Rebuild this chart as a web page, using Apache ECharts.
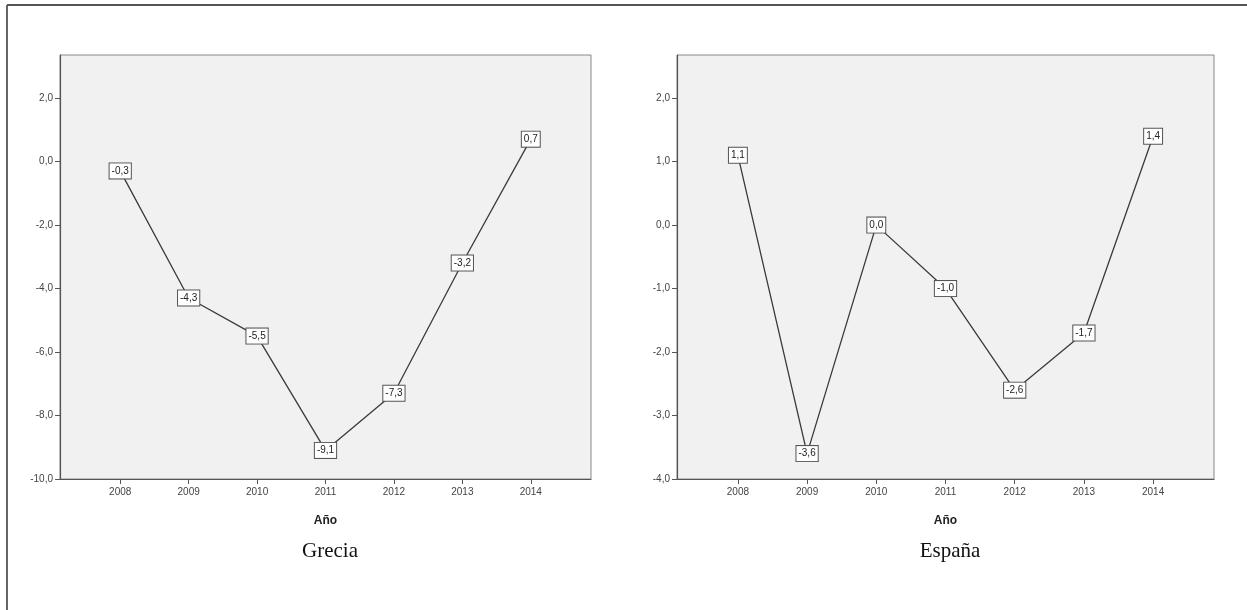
<!DOCTYPE html>
<html>
<head>
<meta charset="utf-8">
<script src="https://cdn.jsdelivr.net/npm/echarts@6/dist/echarts.min.js"></script>
<style>
html,body{margin:0;padding:0;background:#fff;}
#c{width:1247px;height:610px;}
</style>
</head>
<body>
<div id="c"></div>
<script>
var years = [2008, 2009, 2010, 2011, 2012, 2013, 2014];
var greciaValues = [-0.3, -4.3, -5.5, -9.1, -7.3, -3.2, 0.7];
var espanaValues = [1.1, -3.6, 0.0, -1.0, -2.6, -1.7, 1.4];
var greciaTicks = [-10, -8, -6, -4, -2, 0, 2];
var espanaTicks = [-4, -3, -2, -1, 0, 1, 2];
var panelTitles = ['Grecia', 'España'];
var axisName = 'Año';

function fmt(v) { return v.toFixed(1).replace('.', ','); }
function pairs(vals) { return years.map(function (y, i) { return [y, vals[i]]; }); }

var chart = echarts.init(document.getElementById('c'), null, {renderer: 'canvas'});

function xAxisDef(idx) {
  return {
    type: 'value', gridIndex: idx, min: 2007.12, max: 2014.88,
    name: axisName, nameLocation: 'middle', nameGap: 36,
    nameTextStyle: {fontFamily: 'Liberation Sans', fontWeight: 'bold', fontSize: 12, color: '#222'},
    axisLine: {show: true, onZero: false, lineStyle: {color: '#555', width: 1.2}},
    axisTick: {show: true, length: 5, lineStyle: {color: '#555'}, customValues: years},
    axisLabel: {customValues: years, fontFamily: 'Liberation Sans', fontSize: 10, color: '#444', margin: 8,
      formatter: function (v) { return String(v); }},
    splitLine: {show: false}
  };
}
function yAxisDef(idx, min, max, ticks) {
  return {
    type: 'value', gridIndex: idx, min: min, max: max,
    axisLine: {show: true, onZero: false, lineStyle: {color: '#555', width: 1.2}},
    axisTick: {show: true, length: 5, lineStyle: {color: '#555'}, customValues: ticks},
    axisLabel: {customValues: ticks, fontFamily: 'Liberation Sans', fontSize: 10, color: '#444', margin: 7,
      formatter: function (v) { return fmt(v); }},
    splitLine: {show: false}
  };
}
function seriesDef(idx, vals) {
  return {
    type: 'line', xAxisIndex: idx, yAxisIndex: idx, data: pairs(vals),
    symbol: 'circle', symbolSize: 0.1, showSymbol: true,
    lineStyle: {color: '#3a3a3a', width: 1.3},
    itemStyle: {color: '#3a3a3a'},
    label: {
      show: true, position: 'inside',
      formatter: function (p) { return fmt(p.value[1]); },
      fontFamily: 'Liberation Sans', fontSize: 10, color: '#222',
      backgroundColor: '#fff', borderColor: '#555', borderWidth: 1, padding: [3, 2, 2, 2]
    },
    emphasis: {disabled: true}, animation: false
  };
}

chart.setOption({
  animation: false,
  title: [
    {text: panelTitles[0], left: 325, top: 536, textAlign: 'center',
     textStyle: {fontFamily: 'Liberation Serif', fontWeight: 'normal', fontSize: 21, color: '#111'}},
    {text: panelTitles[1], left: 945, top: 536, textAlign: 'center',
     textStyle: {fontFamily: 'Liberation Serif', fontWeight: 'normal', fontSize: 21, color: '#111'}}
  ],
  grid: [
    {left: 60, top: 55, width: 531, height: 424, show: true, backgroundColor: '#f1f1f1', borderColor: '#888', borderWidth: 1},
    {left: 677, top: 55, width: 537, height: 424, show: true, backgroundColor: '#f1f1f1', borderColor: '#888', borderWidth: 1}
  ],
  xAxis: [xAxisDef(0), xAxisDef(1)],
  yAxis: [yAxisDef(0, -10, 3.35, greciaTicks), yAxisDef(1, -4, 2.68, espanaTicks)],
  series: [seriesDef(0, greciaValues), seriesDef(1, espanaValues)],
  graphic: [
    {type: 'line', shape: {x1: 7, y1: 5, x2: 7, y2: 610}, style: {stroke: '#555', lineWidth: 1.8}},
    {type: 'line', shape: {x1: 7, y1: 5, x2: 1247, y2: 5}, style: {stroke: '#555', lineWidth: 1.8}}
  ]
});
</script>
</body>
</html>
